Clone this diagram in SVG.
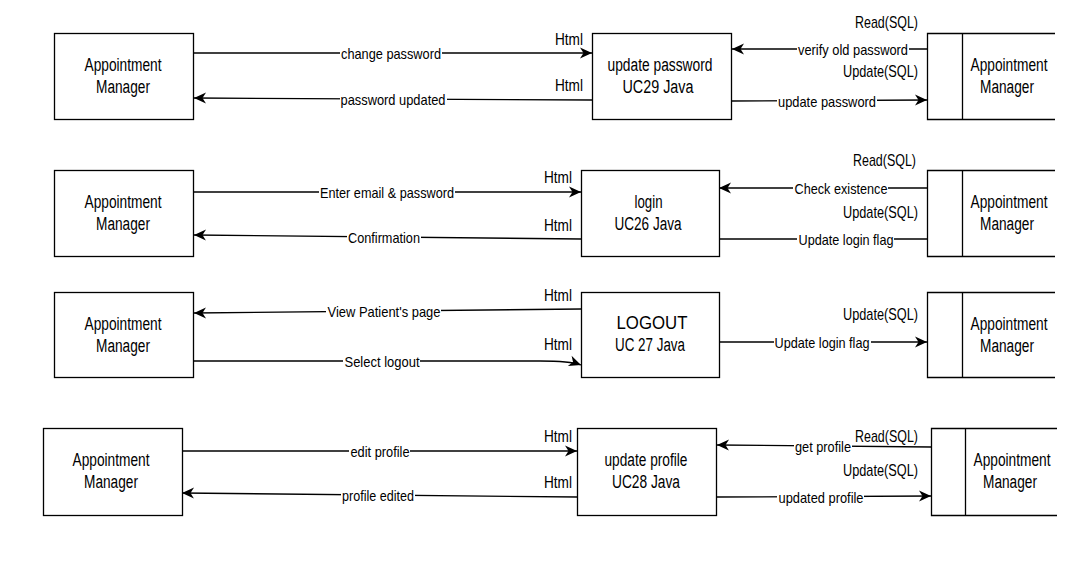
<svg xmlns="http://www.w3.org/2000/svg" width="1075" height="564" viewBox="0 0 1075 564">
<style>
.box{fill:#fff;stroke:#000;stroke-width:1.3}
.st{fill:none;stroke:#000;stroke-width:1.3}
.ln{fill:none;stroke:#000;stroke-width:1.3}
.arr{marker-end:url(#ah)}
.bg{fill:#fff}
text{font-family:"Liberation Sans",Arial,Helvetica,sans-serif;fill:#000}
.nt{font-size:18px;text-anchor:middle}
.el{font-size:15px;text-anchor:middle}
.tg{font-size:17px;text-anchor:end}
</style>
<defs>
<marker id="ah" markerUnits="userSpaceOnUse" markerWidth="13" markerHeight="12" refX="12" refY="5.5" orient="auto" overflow="visible">
<path d="M0,0 L12,5.5 L0,11 L3.5,5.5 z" fill="#000"/>
</marker>
</defs>
<rect width="1075" height="564" fill="#fff"/>

<g id="connectors">
<!-- row 1 -->
<path class="ln arr" d="M194,53 L592,53"/>
<rect class="bg" x="340" y="45" width="102" height="16"/>
<text class="el" x="391" y="58.5" textLength="100" lengthAdjust="spacingAndGlyphs">change password</text>
<path class="ln arr" d="M592,100 L194,98"/>
<rect class="bg" x="340" y="91" width="107" height="16"/>
<text class="el" x="393" y="104.5" textLength="105" lengthAdjust="spacingAndGlyphs">password updated</text>
<path class="ln arr" d="M927,49 L732,49"/>
<rect class="bg" x="797" y="41" width="112" height="16"/>
<text class="el" x="853" y="54.5" textLength="110" lengthAdjust="spacingAndGlyphs">verify old password</text>
<path class="ln arr" d="M732,101 L927,100"/>
<rect class="bg" x="777" y="93" width="100" height="16"/>
<text class="el" x="827" y="106.5" textLength="98" lengthAdjust="spacingAndGlyphs">update password</text>
<text class="tg" x="583" y="44.5" textLength="28" lengthAdjust="spacingAndGlyphs">Html</text>
<text class="tg" x="583" y="90.5" textLength="28" lengthAdjust="spacingAndGlyphs">Html</text>
<text class="tg" x="918" y="28" textLength="63" lengthAdjust="spacingAndGlyphs">Read(SQL)</text>
<text class="tg" x="918" y="77" textLength="75" lengthAdjust="spacingAndGlyphs">Update(SQL)</text>

<!-- row 2 -->
<path class="ln arr" d="M194,192 L581,192"/>
<rect class="bg" x="319" y="184" width="136" height="16"/>
<text class="el" x="387" y="197.5" textLength="134" lengthAdjust="spacingAndGlyphs">Enter email &amp; password</text>
<path class="ln arr" d="M581,239 L194,235"/>
<rect class="bg" x="347" y="229" width="74" height="16"/>
<text class="el" x="384" y="242.5" textLength="72" lengthAdjust="spacingAndGlyphs">Confirmation</text>
<path class="ln arr" d="M927,188 L719,188"/>
<rect class="bg" x="793" y="180" width="95" height="16"/>
<text class="el" x="841" y="193.5" textLength="93" lengthAdjust="spacingAndGlyphs">Check existence</text>
<path class="ln" d="M719,239 L927,239"/>
<rect class="bg" x="797" y="231" width="97" height="16"/>
<text class="el" x="846" y="244.5" textLength="95" lengthAdjust="spacingAndGlyphs">Update login flag</text>
<text class="tg" x="572" y="182.5" textLength="28" lengthAdjust="spacingAndGlyphs">Html</text>
<text class="tg" x="572" y="231" textLength="28" lengthAdjust="spacingAndGlyphs">Html</text>
<text class="tg" x="916" y="166" textLength="63" lengthAdjust="spacingAndGlyphs">Read(SQL)</text>
<text class="tg" x="918" y="218" textLength="75" lengthAdjust="spacingAndGlyphs">Update(SQL)</text>

<!-- row 3 -->
<path class="ln arr" d="M581,309 L194,313"/>
<rect class="bg" x="326" y="303" width="115" height="16"/>
<text class="el" x="384" y="316.5" textLength="113" lengthAdjust="spacingAndGlyphs">View Patient's page</text>
<path class="ln arr" d="M194,361 L540,361 Q570,361 581,365"/>
<rect class="bg" x="343" y="353" width="77" height="16"/>
<text class="el" x="382" y="366.5" textLength="75" lengthAdjust="spacingAndGlyphs">Select logout</text>
<path class="ln arr" d="M719,342 L927,342"/>
<rect class="bg" x="774" y="334" width="97" height="16"/>
<text class="el" x="822" y="347.5" textLength="95" lengthAdjust="spacingAndGlyphs">Update login flag</text>
<text class="tg" x="572" y="300.5" textLength="28" lengthAdjust="spacingAndGlyphs">Html</text>
<text class="tg" x="572" y="350" textLength="28" lengthAdjust="spacingAndGlyphs">Html</text>
<text class="tg" x="918" y="319.5" textLength="75" lengthAdjust="spacingAndGlyphs">Update(SQL)</text>

<!-- row 4 -->
<path class="ln arr" d="M182,451 L577,451"/>
<rect class="bg" x="349" y="443" width="61" height="16"/>
<text class="el" x="380" y="456.5" textLength="59" lengthAdjust="spacingAndGlyphs">edit profile</text>
<path class="ln arr" d="M577,497 L182,493"/>
<rect class="bg" x="341" y="487" width="74" height="16"/>
<text class="el" x="378" y="500.5" textLength="72" lengthAdjust="spacingAndGlyphs">profile edited</text>
<path class="ln arr" d="M931,447 L717,445"/>
<rect class="bg" x="794" y="438" width="58" height="16"/>
<text class="el" x="823" y="451.5" textLength="56" lengthAdjust="spacingAndGlyphs">get profile</text>
<path class="ln arr" d="M717,497 L931,496"/>
<rect class="bg" x="777" y="489" width="87" height="16"/>
<text class="el" x="821" y="502.5" textLength="85" lengthAdjust="spacingAndGlyphs">updated profile</text>
<text class="tg" x="572" y="442" textLength="28" lengthAdjust="spacingAndGlyphs">Html</text>
<text class="tg" x="572" y="488" textLength="28" lengthAdjust="spacingAndGlyphs">Html</text>
<text class="tg" x="918" y="442" textLength="63" lengthAdjust="spacingAndGlyphs">Read(SQL)</text>
<text class="tg" x="918" y="476" textLength="75" lengthAdjust="spacingAndGlyphs">Update(SQL)</text>
</g>

<!-- Row 1 nodes -->
<g id="am-left-1">
<rect class="box" x="54.5" y="33.5" width="139" height="86"/>
<text class="nt" x="123" y="71" textLength="77" lengthAdjust="spacingAndGlyphs">Appointment</text>
<text class="nt" x="123" y="93" textLength="54" lengthAdjust="spacingAndGlyphs">Manager</text>
</g>
<g id="uc29">
<rect class="box" x="592.5" y="33.5" width="139" height="86"/>
<text class="nt" x="660" y="71" textLength="105" lengthAdjust="spacingAndGlyphs">update password</text>
<text class="nt" x="658" y="93" textLength="71" lengthAdjust="spacingAndGlyphs">UC29 Java</text>
</g>
<g id="store-1">
<path class="st" d="M1055,33.5 L927.5,33.5 L927.5,119.5 L1055,119.5 M962.5,33.5 L962.5,119.5"/>
<text class="nt" x="1009" y="71" textLength="77" lengthAdjust="spacingAndGlyphs">Appointment</text>
<text class="nt" x="1007" y="93" textLength="54" lengthAdjust="spacingAndGlyphs">Manager</text>
</g>

<!-- Row 2 nodes -->
<g id="am-left-2">
<rect class="box" x="54.5" y="170.5" width="139" height="86"/>
<text class="nt" x="123" y="208" textLength="77" lengthAdjust="spacingAndGlyphs">Appointment</text>
<text class="nt" x="123" y="230" textLength="54" lengthAdjust="spacingAndGlyphs">Manager</text>
</g>
<g id="uc26">
<rect class="box" x="581.5" y="170.5" width="138" height="86"/>
<text class="nt" x="648.5" y="208" textLength="28" lengthAdjust="spacingAndGlyphs">login</text>
<text class="nt" x="648" y="230" textLength="67" lengthAdjust="spacingAndGlyphs">UC26 Java</text>
</g>
<g id="store-2">
<path class="st" d="M1055,170.5 L927.5,170.5 L927.5,256.5 L1055,256.5 M962.5,170.5 L962.5,256.5"/>
<text class="nt" x="1009" y="208" textLength="77" lengthAdjust="spacingAndGlyphs">Appointment</text>
<text class="nt" x="1007" y="230" textLength="54" lengthAdjust="spacingAndGlyphs">Manager</text>
</g>

<!-- Row 3 nodes -->
<g id="am-left-3">
<rect class="box" x="54.5" y="292.5" width="139" height="85"/>
<text class="nt" x="123" y="330" textLength="77" lengthAdjust="spacingAndGlyphs">Appointment</text>
<text class="nt" x="123" y="352" textLength="54" lengthAdjust="spacingAndGlyphs">Manager</text>
</g>
<g id="uc27">
<rect class="box" x="581.5" y="292.5" width="138" height="85"/>
<text class="nt" x="652" y="329" textLength="71" lengthAdjust="spacingAndGlyphs">LOGOUT</text>
<text class="nt" x="650" y="351" textLength="70" lengthAdjust="spacingAndGlyphs">UC 27 Java</text>
</g>
<g id="store-3">
<path class="st" d="M1055,292.5 L927.5,292.5 L927.5,377.5 L1055,377.5 M962.5,292.5 L962.5,377.5"/>
<text class="nt" x="1009" y="330" textLength="77" lengthAdjust="spacingAndGlyphs">Appointment</text>
<text class="nt" x="1007" y="352" textLength="54" lengthAdjust="spacingAndGlyphs">Manager</text>
</g>

<!-- Row 4 nodes -->
<g id="am-left-4">
<rect class="box" x="43.5" y="428.5" width="139" height="87"/>
<text class="nt" x="111" y="466" textLength="77" lengthAdjust="spacingAndGlyphs">Appointment</text>
<text class="nt" x="111" y="488" textLength="54" lengthAdjust="spacingAndGlyphs">Manager</text>
</g>
<g id="uc28">
<rect class="box" x="577.5" y="428.5" width="139" height="87"/>
<text class="nt" x="646" y="466" textLength="83" lengthAdjust="spacingAndGlyphs">update profile</text>
<text class="nt" x="646" y="488" textLength="68" lengthAdjust="spacingAndGlyphs">UC28 Java</text>
</g>
<g id="store-4">
<path class="st" d="M1057,428.5 L931.5,428.5 L931.5,515.5 L1057,515.5 M965.5,428.5 L965.5,515.5"/>
<text class="nt" x="1012" y="466" textLength="77" lengthAdjust="spacingAndGlyphs">Appointment</text>
<text class="nt" x="1010" y="488" textLength="54" lengthAdjust="spacingAndGlyphs">Manager</text>
</g>
</svg>
